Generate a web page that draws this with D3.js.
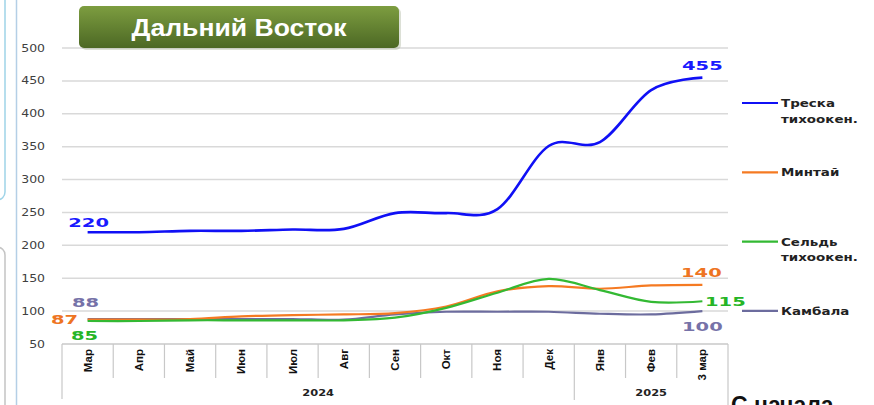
<!DOCTYPE html>
<html>
<head>
<meta charset="utf-8">
<script src="https://cdn.jsdelivr.net/npm/d3@7"></script>
<style>
  body { margin: 0; background: #fff; }
  svg { display: block; }
</style>
</head>
<body>
<div id="chart"></div>
<script>
var w = 874, h = 405;

// data
var months = ["Мар", "Апр", "Май", "Июн", "Июл", "Авг", "Сен", "Окт", "Ноя", "Дек", "Янв", "Фев", "3 мар"];
var years = ["2024", "2025"];
var yearCounts = [10, 3];
var seriesNames = ["Треска тихоокен.", "Минтай", "Сельдь тихоокен.", "Камбала"];
var treska = [220, 220, 222, 222, 224, 225, 249, 249, 255, 351, 357, 436, 455];
var mintai = [87, 87, 88, 92, 94, 95, 97, 107, 130, 138, 134, 139, 140];
var seld = [85, 85, 86, 86, 86, 86, 90, 105, 128, 149, 132, 114, 115];
var kambala = [88, 88, 88, 88, 88, 87, 95, 99, 99, 99, 96, 95, 100];
var yTicks = [50, 100, 150, 200, 250, 300, 350, 400, 450, 500];

var colors = ["#1010f5", "#f57a22", "#33b933", "#6c6c9e"];
var labelColors = ["#1a1aff", "#ee7422", "#26b526", "#7672a8"];
var allSeries = [treska, mintai, seld, kambala];

var svg = d3.select("#chart").append("svg")
	.attr("width", w)
	.attr("height", h);

var defs = svg.append("defs");
var grad = defs.append("linearGradient")
	.attr("id", "titleGrad")
	.attr("x1", 0).attr("y1", 0).attr("x2", 0).attr("y2", 1);
grad.append("stop").attr("offset", "0%").attr("stop-color", "#7d9d40");
grad.append("stop").attr("offset", "100%").attr("stop-color", "#4c6824");

// left slide decorations
svg.append("rect")
	.attr("x", -20).attr("y", -10)
	.attr("width", 25).attr("height", 210)
	.attr("rx", 8)
	.attr("fill", "#fff")
	.attr("stroke", "#9fd4e8")
	.attr("stroke-width", 1.5);
svg.append("rect")
	.attr("x", -20).attr("y", 247)
	.attr("width", 25).attr("height", 200)
	.attr("rx", 8)
	.attr("fill", "#fff")
	.attr("stroke", "#c4c4c4")
	.attr("stroke-width", 1.5);
svg.append("line")
	.attr("x1", 16.5).attr("x2", 16.5)
	.attr("y1", 0).attr("y2", h)
	.attr("stroke", "#b4cfe6")
	.attr("stroke-width", 1.5);

var x = d3.scaleBand()
	.domain(months)
	.range([62, 728])
	.padding(0);

var y = d3.scaleLinear()
	.domain([50, 500])
	.range([344, 48]);

function cx(i) { return x(months[i]) + x.bandwidth() / 2; }

// gridlines + y labels
svg.append("g")
	.selectAll("line")
	.data(yTicks)
	.enter()
	.append("line")
	.attr("x1", 62).attr("x2", 728)
	.attr("y1", function(d) { return y(d); })
	.attr("y2", function(d) { return y(d); })
	.attr("stroke", function(d) { return d == 50 ? "#c8c8c8" : "#d9d9d9"; })
	.attr("stroke-width", 1.5);

svg.append("g")
	.selectAll("text")
	.data(yTicks)
	.enter()
	.append("text")
	.attr("transform", function(d) { return "translate(45," + (y(d) + 3.5) + ") scale(1.25,1)"; })
	.attr("text-anchor", "end")
	.attr("font-family", "DejaVu Sans, sans-serif")
	.attr("font-size", 10)
	.attr("fill", "#404040")
	.text(function(d) { return d; });

// category box
var cat = svg.append("g");
cat.selectAll("line.div")
	.data(d3.range(months.length + 1))
	.enter()
	.append("line")
	.attr("class", "div")
	.attr("x1", function(i) { return i < months.length ? x(months[i]) : x.range()[1]; })
	.attr("x2", function(i) { return i < months.length ? x(months[i]) : x.range()[1]; })
	.attr("y1", 344)
	.attr("y2", function(i) {
		if (i == 0) return 399;
		if (i == months.length) return h;
		if (i == yearCounts[0]) return 400;
		return 378;
	})
	.attr("stroke", "#c8c8c8")
	.attr("stroke-width", 1.2);

cat.selectAll("text.month")
	.data(months)
	.enter()
	.append("text")
	.attr("class", "month")
	.attr("transform", function(d) { return "translate(" + (x(d) + x.bandwidth() / 2 + 4) + ",349) rotate(-90)"; })
	.attr("text-anchor", "end")
	.attr("font-family", "Liberation Sans Narrow, Arial Narrow, sans-serif")
	.attr("font-weight", "bold")
	.attr("font-size", 11.5)
	.attr("fill", "#111")
	.text(function(d) { return d; });

var start = 0;
years.forEach(function(yr, k) {
	var x0 = x(months[start]);
	var x1 = start + yearCounts[k] < months.length ? x(months[start + yearCounts[k]]) : x.range()[1];
	cat.append("text")
		.attr("transform", "translate(" + ((x0 + x1) / 2) + ",396) scale(1.2,1)")
		.attr("text-anchor", "middle")
		.attr("font-family", "DejaVu Sans, sans-serif")
		.attr("font-weight", "bold")
		.attr("font-size", 9.5)
		.attr("fill", "#222")
		.text(yr);
	start += yearCounts[k];
});

// lines
var line = d3.line()
	.x(function(d, i) { return cx(i); })
	.y(function(d) { return y(d); })
	.curve(d3.curveCatmullRom.alpha(0));

[3, 1, 2, 0].forEach(function(s) {
	svg.append("path")
		.datum(allSeries[s])
		.attr("fill", "none")
		.attr("stroke", colors[s])
		.attr("stroke-width", s == 0 ? 2.6 : 2.2)
		.attr("d", line);
});

// first / last value labels (offsets in px)
var labelOffsets = [
	{ first: [1, -5], last: [0, -8] },
	{ first: [-23, 4], last: [-1, -8] },
	{ first: [-3, 19], last: [23, 5] },
	{ first: [-2, -12], last: [0, 20] }
];
allSeries.forEach(function(vals, s) {
	[0, vals.length - 1].forEach(function(i) {
		var off = i == 0 ? labelOffsets[s].first : labelOffsets[s].last;
		svg.append("text")
			.attr("transform", "translate(" + (cx(i) + off[0]) + "," + (y(vals[i]) + off[1]) + ") scale(1.5,1)")
			.attr("text-anchor", "middle")
			.attr("font-family", "DejaVu Sans, sans-serif")
			.attr("font-weight", "bold")
			.attr("font-size", 13)
			.attr("fill", labelColors[s])
			.text(vals[i]);
	});
});

// legend
var leg = svg.append("g").selectAll("g")
	.data(seriesNames)
	.enter()
	.append("g")
	.attr("transform", function(d, i) { return "translate(742," + (103 + i * 69.3) + ")"; });

leg.append("line")
	.attr("x1", 0).attr("x2", 36)
	.attr("y1", 0).attr("y2", 0)
	.attr("stroke", function(d, i) { return colors[i]; })
	.attr("stroke-width", 2.2);

leg.each(function(d) {
	var parts = d.split(" ");
	var g = d3.select(this);
	parts.forEach(function(p, j) {
		g.append("text")
			.attr("transform", "translate(39," + (4 + j * 15.5) + ") scale(1.28,1)")
			.attr("font-family", "DejaVu Sans, sans-serif")
			.attr("font-weight", "bold")
			.attr("font-size", 10.5)
			.attr("fill", "#222")
			.text(p);
	});
});

// title
svg.append("rect")
	.attr("x", 81).attr("y", 8)
	.attr("width", 320).attr("height", 42)
	.attr("rx", 5)
	.attr("fill", "#9aa58a")
	.attr("opacity", 0.35);
svg.append("rect")
	.attr("x", 79).attr("y", 6)
	.attr("width", 320).attr("height", 42)
	.attr("rx", 5)
	.attr("fill", "url(#titleGrad)");
svg.append("text")
	.attr("transform", "translate(239,36) scale(1.13,1)")
	.attr("text-anchor", "middle")
	.attr("font-family", "Liberation Sans, Arial, sans-serif")
	.attr("font-weight", "bold")
	.attr("font-size", 23.5)
	.attr("fill", "#fff")
	.text("Дальний Восток");

// stray slide text at bottom right
svg.append("text")
	.attr("x", 731).attr("y", 413)
	.attr("font-family", "Liberation Sans, Arial, sans-serif")
	.attr("font-weight", "bold")
	.attr("font-size", 23)
	.attr("fill", "#111")
	.text("С начала");
</script>
</body>
</html>
